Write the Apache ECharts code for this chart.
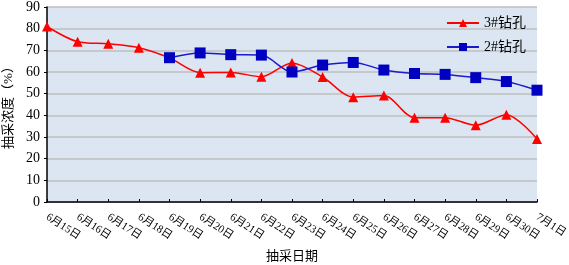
<!DOCTYPE html>
<html>
<head>
<meta charset="utf-8">
<script src="https://cdn.jsdelivr.net/npm/echarts@6/dist/echarts.min.js"></script>
<style>
  html, body { margin: 0; padding: 0; background: #fff; }
  #main { width: 569px; height: 265px; }
</style>
</head>
<body>
<div id="main"></div>
<script>
// 抽采日期
var dates = ['6月15日', '6月16日', '6月17日', '6月18日', '6月19日', '6月20日', '6月21日', '6月22日',
  '6月23日', '6月24日', '6月25日', '6月26日', '6月27日', '6月28日', '6月29日', '6月30日', '7月1日'];
// 3#钻孔
var hole3 = [81, 74, 73, 71.2, 66.5, 59.7, 59.8, 57.8, 64.2, 57.7, 48.4, 49.1, 38.9, 38.9, 35.4, 40.3, 29.1];
// 2#钻孔
var hole2 = [null, null, null, null, 66.6, 68.8, 68, 67.8, 60, 63.2, 64.4, 60.9, 59.3, 58.9, 57.4, 55.6, 51.6];

var serif = '"Liberation Serif", "Noto Sans CJK SC", serif';

var option = {
  animation: false,
  backgroundColor: '#fff',
  grid: {
    left: 47, right: 32, top: 7, bottom: 63,
    outerBoundsMode: 'none',
    containLabel: false,
    show: true, backgroundColor: '#dce6f2', borderWidth: 0
  },
  legend: {
    orient: 'vertical',
    right: 38, top: 11,
    itemWidth: 32, itemHeight: 10, itemGap: 10,
    textStyle: { fontFamily: serif, fontSize: 14, color: '#000' },
    data: ['3#钻孔', '2#钻孔']
  },
  xAxis: {
    type: 'category',
    data: dates,
    boundaryGap: false,
    name: '抽采日期',
    nameLocation: 'middle',
    nameGap: 48,
    nameTextStyle: { fontFamily: serif, fontSize: 13, color: '#000' },
    axisLine: { lineStyle: { color: '#000', width: 1.5 } },
    axisTick: { inside: true, length: 3, lineStyle: { color: '#000' } },
    axisLabel: {
      interval: 0, rotate: -33, margin: 14,
      fontFamily: serif, fontSize: 11, color: '#000'
    },
    splitLine: { show: false }
  },
  yAxis: {
    type: 'value',
    min: 0, max: 90, interval: 10,
    name: '抽采浓度（%）',
    nameLocation: 'middle',
    nameGap: 27,
    nameRotate: 90,
    nameTextStyle: { fontFamily: serif, fontSize: 13, color: '#000' },
    axisLine: { show: true, lineStyle: { color: '#000', width: 1.5 } },
    axisTick: { show: true, length: 3, lineStyle: { color: '#000' } },
    axisLabel: { fontFamily: serif, fontSize: 14, color: '#000', margin: 7 },
    splitLine: { lineStyle: { color: '#bfbfbf', width: 1.5 } }
  },
  series: [
    {
      name: '3#钻孔',
      type: 'line',
      data: hole3,
      smooth: 0.3,
      symbol: 'triangle',
      symbolSize: 10,
      itemStyle: { color: '#ff0000' },
      lineStyle: { color: '#ff0000', width: 1.5 },
      z: 2
    },
    {
      name: '2#钻孔',
      type: 'line',
      data: hole2,
      smooth: 0.3,
      symbol: 'rect',
      symbolSize: 11,
      itemStyle: { color: '#0000c0' },
      lineStyle: { color: '#1a1ad0', width: 1.5 },
      z: 3
    }
  ]
};

var chart = echarts.init(document.getElementById('main'));
chart.setOption(option);
</script>
</body>
</html>
